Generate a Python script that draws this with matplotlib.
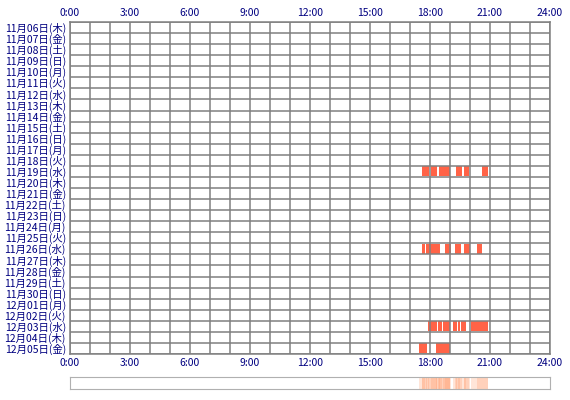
import matplotlib.pyplot as plt
from matplotlib.patches import Rectangle

plt.rcParams['font.family'] = ['Noto Sans CJK JP', 'DejaVu Sans']

days = ["11月06日(木)", "11月07日(金)", "11月08日(土)", "11月09日(日)", "11月10日(月)",
        "11月11日(火)", "11月12日(水)", "11月13日(木)", "11月14日(金)", "11月15日(土)",
        "11月16日(日)", "11月17日(月)", "11月18日(火)", "11月19日(水)", "11月20日(木)",
        "11月21日(金)", "11月22日(土)", "11月23日(日)", "11月24日(月)", "11月25日(火)",
        "11月26日(水)", "11月27日(木)", "11月28日(金)", "11月29日(土)", "11月30日(日)",
        "12月01日(月)", "12月02日(火)", "12月03日(水)", "12月04日(木)", "12月05日(金)"]

# active spans per day (start hour, end hour)
sessions = {
    "11月19日(水)": [(17.6, 17.95), (18.05, 18.35), (18.45, 19.0), (19.3, 19.6),
                    (19.7, 19.95), (20.6, 20.9)],
    "11月26日(水)": [(17.6, 17.75), (17.8, 18.5), (18.75, 19.05), (19.25, 19.55),
                    (19.7, 20.0), (20.35, 20.6)],
    "12月03日(水)": [(17.9, 18.35), (18.4, 18.6), (18.65, 19.0), (19.15, 19.35),
                    (19.4, 19.5), (19.55, 19.8), (20.05, 20.9)],
    "12月05日(金)": [(17.45, 17.85), (18.3, 19.0)],
}
hour_ticks = [0, 3, 6, 9, 12, 15, 18, 21, 24]

navy = "#000080"
grey = "#808080"
fig = plt.figure(figsize=(5.7, 4.0), dpi=100)
ax = fig.add_axes([70 / 570, 1 - 354 / 400, 480 / 570, 332 / 400])
n = len(days)
for i, d in enumerate(days):
    for s, e in sessions.get(d, []):
        ax.add_patch(Rectangle((s, i + 0.05), e - s, 0.9, color="#ff6347", lw=0))
ax.set_xlim(0, 24)
ax.set_ylim(n, 0)
ax.vlines(range(25), 0, n, color=grey, lw=1.1)
ax.hlines(range(n + 1), 0, 24, color=grey, lw=1.1)
ax.set_xticks(hour_ticks)
ax.set_xticklabels([f"{h}:00" for h in hour_ticks], color=navy, fontsize=7.5)
ax.tick_params(length=0, labeltop=True, pad=3)
ax.set_yticks([i + 0.5 for i in range(n)])
ax.set_yticklabels(days, color=navy, fontsize=7.5)
for sp in ax.spines.values():
    sp.set_color(grey)
    sp.set_linewidth(1.1)

ax2 = fig.add_axes([70 / 570, 1 - 389 / 400, 480 / 570, 12 / 400])
for d in days:
    for s, e in sessions.get(d, []):
        ax2.axvspan(s, e, color="#ff9966", alpha=0.25, lw=0)
ax2.set_xlim(0, 24)
ax2.set_xticks([])
ax2.set_yticks([])
for sp in ax2.spines.values():
    sp.set_color("#b0b0b0")

fig.savefig("out.png")
